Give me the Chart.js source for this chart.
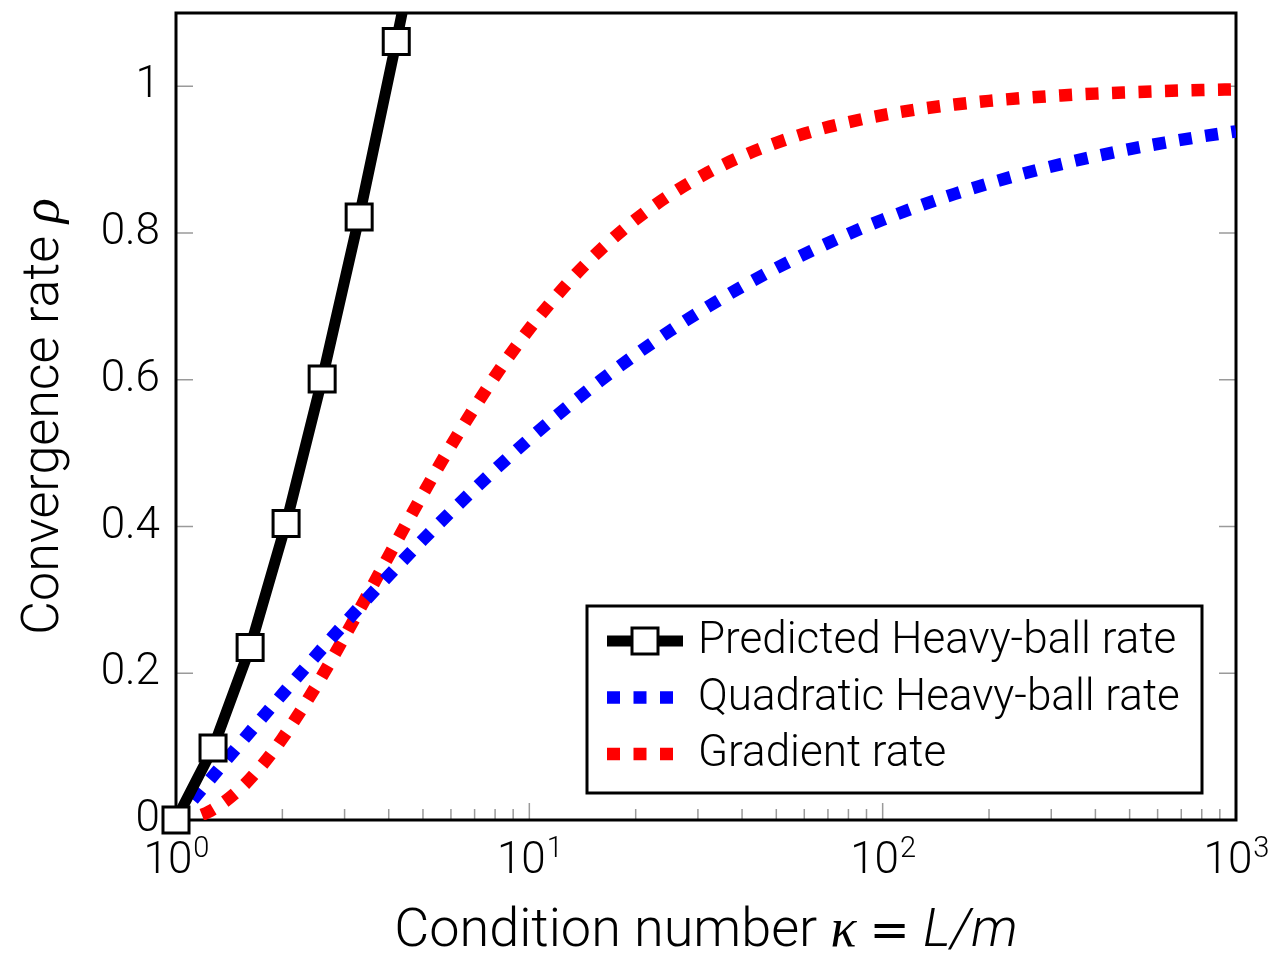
<!DOCTYPE html>
<html>
<head>
<meta charset="utf-8">
<script src="https://cdn.jsdelivr.net/npm/chart.js@4.4.0/dist/chart.umd.min.js"></script>
<style>
  html, body { margin: 0; padding: 0; background: #fff; }
  #wrap { width: 1272px; height: 956px; }
</style>
</head>
<body>
<div id="wrap"><canvas id="mycanvas" width="1272" height="956"></canvas></div>
<script>
// condition number samples for the two dotted curves
const kappaValues = [1, 1.1, 1.25, 1.5, 1.75, 2, 2.5, 3, 3.5, 4, 5, 6, 8, 10, 13, 16, 20, 25, 32, 40, 50, 63, 80, 100, 130, 160, 200, 250, 320, 400, 500, 630, 800, 1000];
const quadraticRate = [0, 0.0238, 0.0557, 0.1010, 0.1390, 0.1716, 0.2251, 0.2679, 0.3033, 0.3333, 0.3820, 0.4202, 0.4776, 0.5195, 0.5657, 0.6000, 0.6345, 0.6667, 0.6996, 0.7270, 0.7522, 0.7762, 0.7989, 0.8182, 0.8387, 0.8535, 0.8679, 0.8810, 0.8941, 0.9048, 0.9144, 0.9234, 0.9317, 0.9387];
const gradientRate = [0, 0.0023, 0.0123, 0.0400, 0.0744, 0.1111, 0.1837, 0.2500, 0.3086, 0.3600, 0.4444, 0.5102, 0.6049, 0.6694, 0.7347, 0.7785, 0.8186, 0.8521, 0.8825, 0.9048, 0.9231, 0.9385, 0.9512, 0.9608, 0.9697, 0.9753, 0.9802, 0.9841, 0.9876, 0.9901, 0.9920, 0.9937, 0.9950, 0.9960];

// square markers of the predicted curve (last one runs off the top)
const predictedKappa = [1, 1.273, 1.621, 2.049, 2.592, 3.299, 4.201, 5.35];
const predictedRate = [0, 0.098, 0.235, 0.404, 0.601, 0.822, 1.061, 1.31];

const seriesLabels = ['Predicted Heavy-ball rate', 'Quadratic Heavy-ball rate', 'Gradient rate'];

// axes
const xMajorTicks = [1, 10, 100, 1000];
const xMajorExp = ['0', '1', '2', '3'];
const xMinorTicks = [2, 3, 4, 5, 6, 7, 8, 9, 20, 30, 40, 50, 60, 70, 80, 90, 200, 300, 400, 500, 600, 700, 800, 900];
const yTicks = [0, 0.2, 0.4, 0.6, 0.8, 1];
const yTickLabels = ['0', '0.2', '0.4', '0.6', '0.8', '1'];

const FONT = 'Roboto';
const DOT = [13, 13.5];

const toPoints = (xs, ys) => xs.map((k, i) => ({ x: k, y: ys[i] }));

function drawParts(ctx, parts, cx, baseY) {
  let total = 0;
  parts.forEach(p => { ctx.font = p.font; p.w = ctx.measureText(p.text).width; total += p.w; });
  let x = cx - total / 2;
  ctx.textAlign = 'left';
  ctx.textBaseline = 'alphabetic';
  parts.forEach(p => { ctx.font = p.font; ctx.fillText(p.text, x, baseY); x += p.w; });
}

const frameAndTicks = {
  id: 'frameAndTicks',
  beforeDatasetsDraw(chart) {
    const { ctx, chartArea: a, scales: { x, y } } = chart;
    ctx.save();
    ctx.strokeStyle = '#9a9a9a';
    ctx.lineWidth = 1.5;
    ctx.beginPath();
    xMajorTicks.forEach(v => {
      const px = x.getPixelForValue(v);
      ctx.moveTo(px, a.bottom); ctx.lineTo(px, a.bottom - 17);
    });
    xMinorTicks.forEach(v => {
      const px = x.getPixelForValue(v);
      ctx.moveTo(px, a.bottom); ctx.lineTo(px, a.bottom - 11);
    });
    yTicks.forEach(v => {
      const py = y.getPixelForValue(v);
      ctx.moveTo(a.left, py); ctx.lineTo(a.left + 17, py);
      ctx.moveTo(a.right, py); ctx.lineTo(a.right - 17, py);
    });
    ctx.stroke();
    ctx.strokeStyle = '#000';
    ctx.lineWidth = 3;
    ctx.strokeRect(a.left, a.top, a.right - a.left, a.bottom - a.top);
    ctx.restore();
  },
  afterDraw(chart) {
    const { ctx, chartArea: a, scales: { x, y } } = chart;
    ctx.save();
    ctx.fillStyle = '#000';

    // y tick labels
    ctx.font = '300 44px ' + FONT;
    ctx.textAlign = 'right';
    ctx.textBaseline = 'middle';
    yTicks.forEach((v, i) => ctx.fillText(yTickLabels[i], a.left - 16, y.getPixelForValue(v)));

    // x tick labels 10^n
    xMajorTicks.forEach((v, i) => {
      const px = x.getPixelForValue(v);
      ctx.font = '300 44px ' + FONT;
      const w1 = ctx.measureText('10').width;
      ctx.font = '300 29px ' + FONT;
      const w2 = ctx.measureText(xMajorExp[i]).width;
      const x0 = px - (w1 + w2) / 2;
      ctx.textAlign = 'left';
      ctx.textBaseline = 'alphabetic';
      ctx.font = '300 44px ' + FONT;
      ctx.fillText('10', x0, a.bottom + 53);
      ctx.font = '300 29px ' + FONT;
      ctx.fillText(xMajorExp[i], x0 + w1 + 1, a.bottom + 37);
    });

    // axis titles
    drawParts(ctx, [
      { text: 'Condition number ', font: '300 54px ' + FONT },
      { text: '\u03ba', font: 'italic 54px "Liberation Serif"' },
      { text: ' ', font: '300 54px ' + FONT },
      { text: '=', font: '48px "DejaVu Sans"' },
      { text: ' ', font: '300 54px ' + FONT },
      { text: 'L/m', font: 'italic 300 54px ' + FONT }
    ], (a.left + a.right) / 2, a.bottom + 126);

    ctx.save();
    ctx.translate(58, (a.top + a.bottom) / 2);
    ctx.rotate(-Math.PI / 2);
    drawParts(ctx, [
      { text: 'Convergence rate ', font: '300 52px ' + FONT },
      { text: '\u03c1', font: 'italic 52px "Liberation Serif"' }
    ], 0, 0);
    ctx.restore();

    // legend box
    const lw = 615, lh = 187;
    const lx = a.right - 34 - lw, ly = a.bottom - 27 - lh;
    ctx.fillStyle = '#fff';
    ctx.fillRect(lx, ly, lw, lh);
    ctx.strokeStyle = '#000';
    ctx.lineWidth = 3;
    ctx.strokeRect(lx, ly, lw, lh);

    chart.data.datasets.forEach((ds, i) => {
      const ry = ly + 35 + i * 56.5;
      const x1 = lx + 20, x2 = lx + 96;
      ctx.strokeStyle = ds.borderColor;
      ctx.lineWidth = ds.borderWidth;
      ctx.setLineDash(ds.borderDash || []);
      ctx.beginPath();
      ctx.moveTo(x1, ry); ctx.lineTo(x2, ry);
      ctx.stroke();
      ctx.setLineDash([]);
      if (ds.pointRadius > 0) {
        const s = 26;
        const mx = (x1 + x2) / 2;
        ctx.fillStyle = '#fff';
        ctx.fillRect(mx - s / 2, ry - s / 2, s, s);
        ctx.strokeStyle = '#000';
        ctx.lineWidth = 3;
        ctx.strokeRect(mx - s / 2, ry - s / 2, s, s);
      }
      ctx.fillStyle = '#000';
      ctx.font = '300 44px ' + FONT;
      ctx.textAlign = 'left';
      ctx.textBaseline = 'middle';
      ctx.fillText(ds.label, lx + 111, ry + 1);
    });
    ctx.restore();
  }
};

new Chart(document.getElementById('mycanvas'), {
  type: 'line',
  data: {
    datasets: [
      {
        label: seriesLabels[0],
        data: toPoints(predictedKappa, predictedRate),
        borderColor: '#000',
        borderWidth: 11,
        tension: 0,
        pointStyle: 'rect',
        pointRadius: 18.4,
        pointBorderWidth: 3,
        pointBackgroundColor: '#fff',
        pointBorderColor: '#000',
        clip: { left: 30, top: 0, right: 0, bottom: 30 }
      },
      {
        label: seriesLabels[1],
        data: toPoints(kappaValues, quadraticRate),
        borderColor: '#0000ff',
        borderWidth: 12.5,
        borderDash: DOT,
        borderCapStyle: 'butt',
        cubicInterpolationMode: 'monotone',
        pointRadius: 0
      },
      {
        label: seriesLabels[2],
        data: toPoints(kappaValues, gradientRate),
        borderColor: '#ff0000',
        borderWidth: 12.5,
        borderDash: DOT,
        borderCapStyle: 'butt',
        cubicInterpolationMode: 'monotone',
        pointRadius: 0
      }
    ]
  },
  options: {
    responsive: false,
    animation: false,
    events: [],
    devicePixelRatio: 1,
    layout: { autoPadding: false, padding: { left: 176, right: 36, top: 13, bottom: 136 } },
    plugins: { legend: { display: false }, tooltip: { enabled: false } },
    scales: {
      x: { type: 'logarithmic', min: 1, max: 1000, display: false },
      y: { type: 'linear', min: 0, max: 1.1, display: false }
    }
  },
  plugins: [frameAndTicks]
});
</script>
</body>
</html>
